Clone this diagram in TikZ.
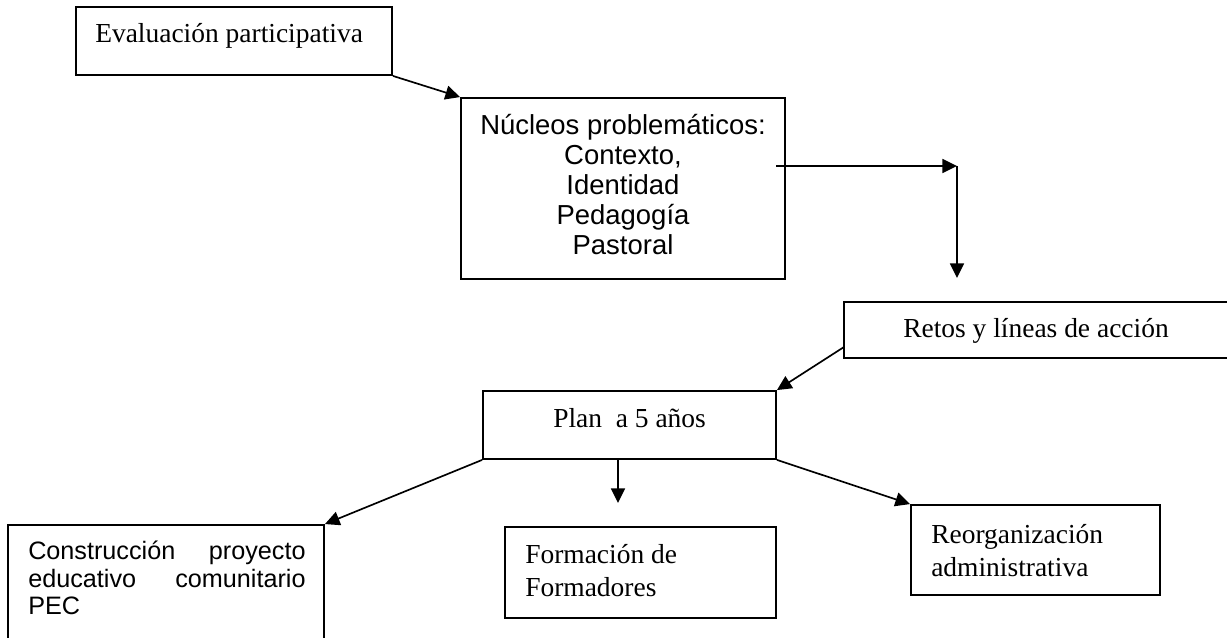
\documentclass[tikz,border=0pt]{standalone}
\usepackage{fontspec}
\setmainfont{Liberation Serif}
\setsansfont{Liberation Sans}
\usetikzlibrary{arrows.meta,fit}
\tikzset{
  box/.style={draw, line width=1.4pt, inner sep=0pt, rectangle},
  arr/.style={line width=1.25pt, -{Triangle[length=11pt,width=10.5pt]}},
  sertxt/.style={font=\rmfamily\fontsize{20.6}{24.75}\selectfont, inner sep=0pt},
  santxt/.style={font=\sffamily\fontsize{20.6}{22.5}\selectfont, inner sep=0pt},
  smalltxt/.style={font=\sffamily\fontsize{18.9}{20.4}\selectfont, inner sep=0pt}
}
\begin{document}
\begin{tikzpicture}[x=0.75pt,y=-0.75pt]
\useasboundingbox (0,0) rectangle (1227,638);
\clip (0,0) rectangle (1227,638);
% boxes
\node[box, fit={(76,7) (392,75)}] (eval) {};
\node[box, fit={(461,98) (785,279)}] (nuc) {};
\node[box, fit={(844,302) (1240,358)}] (retos) {};
\node[box, fit={(483,391) (776,459)}] (plan) {};
\node[box, fit={(8,525) (324,660)}] (cons) {};
\node[box, fit={(505,527) (776,618)}] (form) {};
\node[box, fit={(911,505) (1160,595)}] (reorg) {};
% texts
\node[sertxt, anchor=base west] (evalT) at (95,43) {Evaluación participativa};
\node[santxt, anchor=north, align=center] (nucT) at (623,114) {Núcleos problemáticos:\\Contexto,\\Identidad\\Pedagogía\\Pastoral};
\node[sertxt, anchor=base west] (retosT) at (903,337) {Retos y líneas de acción};
\node[sertxt, anchor=base west] (planT) at (553,427) {Plan\ \ a 5 años};
\node[smalltxt, anchor=north west, align=left, text width=208pt] (consT) at (28,541) {Construcción\hfill proyecto\\educativo\hfill comunitario\\PEC};
\node[sertxt, anchor=north west, align=left] (formT) at (525,544) {Formación de\\Formadores};
\node[sertxt, anchor=north west, align=left] (reorgT) at (931,524) {Reorganización\\administrativa};
% connectors
\coordinate (s2) at (776,166);
\coordinate (c1) at (957,166);
\coordinate (c2) at (957,278);
\coordinate (s3) at (844,347);
\coordinate (t5) at (618,503);
\draw[arr] (eval.south east) -- (nuc.north west);
\draw[arr] (s2) -- (c1);
\draw[arr] (c1) -- (c2);
\draw[arr] (s3) -- (plan.north east);
\draw[arr] (plan.south west) -- (cons.north east);
\draw[arr] (plan.south -| t5) -- (t5);
\draw[arr] (plan.south east) -- (reorg.north west);
\end{tikzpicture}
\end{document}
